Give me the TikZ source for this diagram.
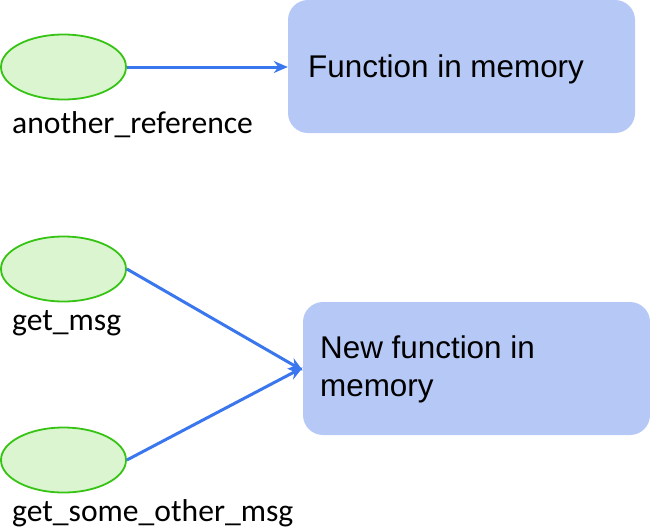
\documentclass[tikz,border=0pt]{standalone}
\usepackage{fontspec}
\setmainfont{Liberation Sans}
\newfontfamily\labelfont{Carlito}
\usetikzlibrary{shapes.geometric,arrows.meta}
\definecolor{ellfill}{HTML}{DBF5D0}
\definecolor{elldraw}{HTML}{36C414}
\definecolor{boxfill}{HTML}{B5C8F6}
\definecolor{arrowblue}{HTML}{3A76EE}
\tikzset{
  refell/.style={ellipse,draw=elldraw,fill=ellfill,line width=1.8pt,minimum width=125pt,minimum height=65pt,inner sep=0pt},
  funcbox/.style={rectangle,rounded corners=20pt,fill=boxfill,inner sep=0pt},
  reflabel/.style={anchor=west,inner sep=0pt,font=\labelfont\fontsize{31.6}{36}\selectfont},
  boxtext/.style={anchor=west,inner sep=0pt,align=left,font=\fontsize{31.4}{38}\selectfont},
  conn/.style={draw=arrowblue,line width=3pt,-{Stealth[length=14pt,width=12pt]}}
}
\begin{document}
\begin{tikzpicture}[x=1pt,y=-1pt]
\useasboundingbox (0,0) rectangle (650,528);
\node[refell] (e1) at (63.5,67) {};
\node[refell] (e2) at (63.5,269) {};
\node[refell] (e3) at (63.5,460) {};
\node[reflabel] (l1) at (12,125) {another\_reference};
\node[reflabel] (l2) at (12,323) {get\_msg};
\node[reflabel] (l3) at (12,513) {get\_some\_other\_msg};
\node[funcbox,minimum width=347pt,minimum height=133pt] (b1) at (461.5,66.5) {};
\node[funcbox,minimum width=347pt,minimum height=133pt] (b2) at (476.5,368.5) {};
\node[boxtext] (t1) at (308,69) {Function in memory};
\node[boxtext] (t2) at (320,369) {New function in\\memory};
\coordinate (a2) at ([yshift=-2pt]b2.west);
\coordinate (a3) at ([yshift=1pt]b2.west);
\draw[conn] (e1.east) -- (b1.west |- e1.east);
\draw[conn] (e2.east) -- (a2);
\draw[conn] (e3.east) -- (a3);
\end{tikzpicture}
\end{document}
